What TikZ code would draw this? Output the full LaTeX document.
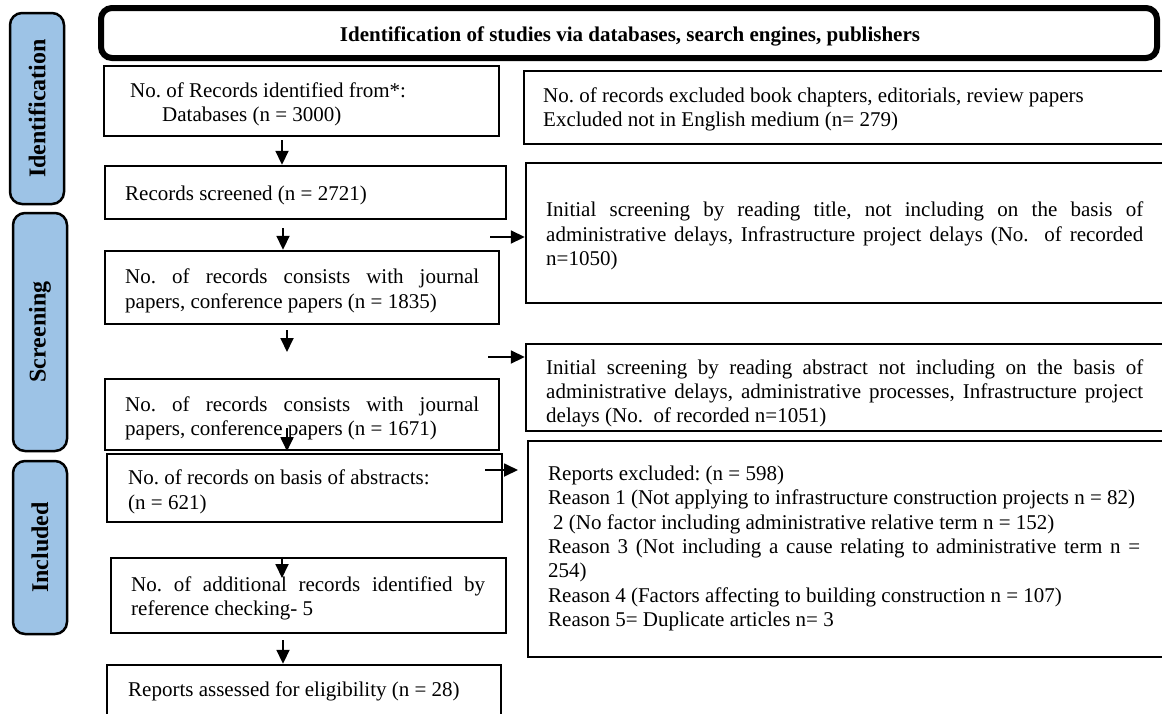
\documentclass[tikz,border=0pt]{standalone}
\usepackage{fontspec}
\setmainfont{Liberation Serif}
\usetikzlibrary{arrows.meta}
\definecolor{tabblue}{RGB}{157,195,230}
\frenchspacing
\begin{document}
\begin{tikzpicture}[x=1pt,y=-1pt,
  frame/.style={draw, line width=2.4pt, inner sep=0pt},
  txt/.style={anchor=west, inner sep=0pt, font=\fontsize{21}{24.4}\selectfont\frenchspacing},
  jtxt/.style={txt, align=justify},
  ltxt/.style={txt, align=left},
  tab/.style={draw, line width=2.5pt, fill=tabblue, rounded corners=12pt, rotate=90, inner sep=0pt, minimum height=54pt, font=\fontsize{24}{28}\selectfont\bfseries},
  titlebox/.style={draw, line width=6pt, rounded corners=11pt, inner sep=0pt},
  titletxt/.style={inner sep=0pt, font=\fontsize{21}{24}\selectfont\bfseries},
  arr/.style={line width=1.8pt, -{Triangle[width=13pt,length=14pt]}},
]
\path[use as bounding box] (0,0) rectangle (1162,713);
\clip (0,0) rectangle (1162,713);

% side tabs
\node[tab, minimum width=191pt] (tab1) at (37,108.5) {Identification};
\node[tab, minimum width=238pt] (tab2) at (40,332) {Screening};
\node[tab, minimum width=173pt] (tab3) at (40,547.5) {Included};

% title
\node[titlebox, minimum width=1056pt, minimum height=50pt] (title) at (629,33) {};
\node[titletxt] (titletext) at (630,36.5) {Identification of studies via databases, search engines, publishers};

% left boxes
\node[frame, minimum width=395pt, minimum height=70pt] (b1) at (301.5,101) {};
\node[frame, minimum width=401pt, minimum height=53pt] (b2) at (305.5,192.5) {};
\node[frame, minimum width=394pt, minimum height=73pt] (b3) at (302,287.5) {};
\node[frame, minimum width=394pt, minimum height=71pt] (b4) at (302,414.5) {};
\node[frame, minimum width=395pt, minimum height=68pt] (b5) at (304.5,488) {};
\node[frame, minimum width=395pt, minimum height=75pt] (b6) at (308.5,595.5) {};
\node[frame, minimum width=394pt, minimum height=51pt] (b7) at (304,690.5) {};

% right boxes
\node[frame, minimum width=651pt, minimum height=73pt] (r1) at (849.5,107.5) {};
\node[frame, minimum width=649pt, minimum height=140pt] (r2) at (850.5,233) {};
\node[frame, minimum width=649pt, minimum height=87pt] (r3) at (850.5,387.5) {};
\node[frame, minimum width=647pt, minimum height=216pt] (r4) at (851.5,549) {};

% texts
\node[ltxt] (t1) at (130,104.3) {No. of Records identified from*:\\\hspace*{32pt}Databases (n = 3000)};
\node[ltxt] (t2) at (125,195.1) {Records screened (n = 2721)};
\node[jtxt, text width=354pt] (t3) at (125,290.9) {No. of records consists with journal\linebreak papers, conference papers (n = 1835)};
\node[jtxt, text width=354pt] (t4) at (125,418.5) {No. of records consists with journal\linebreak papers, conference papers (n = 1671)};
\node[ltxt] (t5) at (128,491.8) {No. of records on basis of abstracts:\\(n = 621)};
\node[jtxt, text width=354pt] (t6) at (131,598.5) {No. of additional records identified by\linebreak reference checking- 5};
\node[ltxt] (t7) at (128,691.8) {Reports assessed for eligibility (n = 28)};

\node[ltxt] (rt1) at (543,109.3) {No. of records excluded book chapters, editorials, review papers\\Excluded not in English medium (n= 279)};
\node[jtxt, text width=597pt] (rt2) at (546,236) {Initial screening by reading title, not including on the basis of\linebreak administrative delays, Infrastructure project delays (No.\ \ of recorded\linebreak n=1050)};
\node[jtxt, text width=597pt] (rt3) at (546,393.4) {Initial screening by reading abstract not including on the basis of\linebreak administrative delays, administrative processes, Infrastructure project\linebreak delays (No.\ \ of recorded n=1051)};
\node[jtxt, text width=592pt] (rt4) at (548,548.5) {Reports excluded: (n = 598)\\Reason 1 (Not applying to infrastructure construction projects n = 82)\\\hspace*{5pt}2 (No factor including administrative relative term n = 152)\\Reason 3 (Not including a cause relating to administrative term n =\linebreak 254)\\Reason 4 (Factors affecting to building construction n = 107)\\Reason 5= Duplicate articles n= 3};

% vertical arrows
\coordinate (s1) at (282,140);
\draw[arr] (s1) -- (s1 |- b2.north);
\coordinate (s2) at (283,228);
\draw[arr] (s2) -- (s2 |- b3.north);
\coordinate (s3) at (287,330);
\coordinate (e3) at (287,352);
\draw[arr] (s3) -- (e3);
\coordinate (s4) at (287,428);
\draw[arr] (s4) -- (s4 |- b4.south);
\coordinate (e5) at (282,578);
\draw[arr] (e5 |- b6.north) -- (e5);
\coordinate (s6) at (283,640);
\draw[arr] (s6) -- (s6 |- b7.north);

% horizontal arrows
\coordinate (h1) at (490,237);
\draw[arr] (h1) -- (h1 -| r2.west);
\coordinate (h2) at (488,357);
\draw[arr] (h2) -- (h2 -| r3.west);
\coordinate (h3) at (485,470);
\coordinate (h3e) at (518,470);
\draw[arr] (h3) -- (h3e);
\end{tikzpicture}
\end{document}
